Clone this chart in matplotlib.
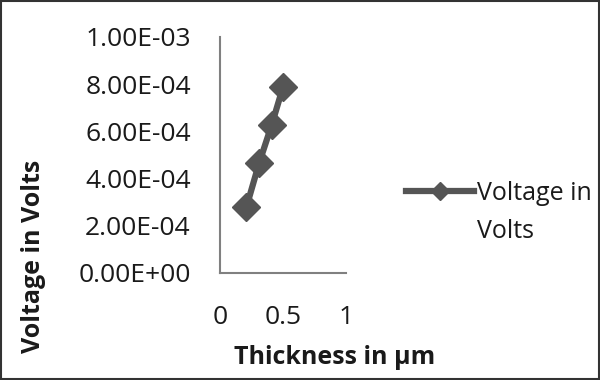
import matplotlib.pyplot as plt
from matplotlib.patches import Rectangle

thickness = [0.21, 0.31, 0.41, 0.5]
voltage = [2.8e-4, 4.65e-4, 6.27e-4, 7.88e-4]
yticks = [0, 2e-4, 4e-4, 6e-4, 8e-4, 1e-3]
ytick_labels = ["0.00E+00", "2.00E-04", "4.00E-04", "6.00E-04", "8.00E-04", "1.00E-03"]
xticks = [0, 0.5, 1]
xtick_labels = ["0", "0.5", "1"]

plt.rcParams['font.family'] = ['Open Sans', 'DejaVu Sans']
txt = '#1a1a1a'

fig = plt.figure(figsize=(6, 3.8), dpi=100)
ax = fig.add_axes([220/600, 1 - 273/380, 126/600, 236/380])

line, = ax.plot(thickness, voltage, color='#555555', lw=4.5, marker='D', ms=14,
                label="Voltage in")

ax.set_xlim(0, 1)
ax.set_ylim(0, 1e-3)
ax.set_xticks(xticks)
ax.set_xticklabels(xtick_labels)
ax.set_yticks(yticks)
ax.set_yticklabels(ytick_labels)
ax.tick_params(length=0, labelsize=19, colors=txt, pad=21)
ax.tick_params(axis='x', pad=23)
for s in ['top', 'right']:
    ax.spines[s].set_visible(False)
for s in ['left', 'bottom']:
    ax.spines[s].set_color('#808080')
    ax.spines[s].set_linewidth(1.5)

fig.text(335/600, 1 - 358/380, "Thickness in µm", fontsize=18, fontweight='bold',
         color=txt, ha='center', va='center')
fig.text(34/600, 1 - 256/380, "Voltage in Volts", rotation=90, fontsize=18,
         fontweight='bold', color=txt, ha='center', va='center')

fig.legend(handles=[line], loc='center left', bbox_to_anchor=(396/600, 1 - 193/380),
           frameon=False, fontsize=18, handlelength=2.7, handletextpad=0.15,
           borderaxespad=0, markerscale=0.65, labelcolor=txt)
fig.text(477/600, 1 - 231/380, "Volts", fontsize=18, color=txt,
         ha='left', va='center')

fig.patches.append(Rectangle((0.002, 0.003), 0.996, 0.994, transform=fig.transFigure,
                             fill=False, edgecolor='#333333', lw=1.5))

fig.savefig('out.png', dpi=100)
